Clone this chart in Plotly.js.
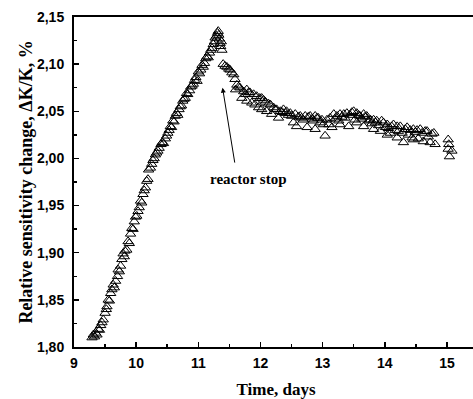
<!DOCTYPE html>
<html>
<head>
<meta charset="utf-8">
<script src="https://cdn.plot.ly/plotly-3.0.1.min.js"></script>
<style>html,body{margin:0;padding:0;overflow:hidden;background:#fff;}#chart{width:478px;height:399px;}</style>
</head>
<body>
<div id="chart"></div>
<script>
// Time, days
const timeDays = [
9.29,9.31,9.33,9.35,9.37,9.39,9.41,9.43,9.45,9.47,9.50,9.52,9.53,9.55,9.57,9.59,9.61,9.63,9.65,9.67,
9.70,9.71,9.73,9.75,9.77,9.79,9.81,9.82,9.85,9.87,9.89,9.91,9.93,9.95,9.97,9.99,10.01,10.03,10.05,10.07,
10.09,10.11,10.13,10.15,10.17,10.19,10.20,10.23,10.25,10.27,10.29,10.31,10.33,10.35,10.37,10.40,10.42,10.44,10.47,10.49,
10.51,10.53,10.55,10.57,10.59,10.61,10.63,10.65,10.67,10.69,10.71,10.73,10.75,10.77,10.79,10.81,10.83,10.86,10.88,10.90,
10.92,10.94,10.96,10.98,11.00,11.02,11.04,11.06,11.08,11.10,11.12,11.14,11.16,11.18,11.20,11.22,11.24,11.26,11.27,11.29,
11.31,11.32,11.33,11.34,11.35,11.36,11.37,11.38,
11.40,11.43,11.46,11.49,11.51,11.54,11.57,11.59,11.60,11.62,11.65,11.67,11.70,11.73,11.76,11.78,11.78,11.81,11.83,11.86,
11.89,11.91,11.94,11.97,11.99,12.02,12.02,12.05,12.08,12.10,12.13,12.16,12.18,12.21,12.24,12.26,12.29,12.32,12.35,12.37,
12.40,12.42,12.45,12.48,12.50,12.53,12.56,12.58,12.61,12.64,12.66,12.69,12.72,12.75,12.77,12.80,12.83,12.85,12.88,12.88,
12.91,12.93,12.96,12.99,13.01,13.04,13.07,13.10,13.12,13.15,13.18,13.20,13.23,13.26,13.28,13.28,13.31,13.34,13.36,13.39,
13.42,13.44,13.47,13.50,13.52,13.55,13.55,13.58,13.60,13.63,13.66,13.66,13.68,13.71,13.74,13.77,13.79,13.82,13.82,13.85,
13.87,13.90,13.93,13.95,13.98,14.01,14.04,14.04,14.06,14.09,14.11,14.14,14.17,14.20,14.20,14.22,14.25,14.28,14.30,14.33,
14.36,14.38,14.41,14.44,14.46,14.46,14.49,14.52,14.54,14.57,14.60,14.62,14.65,14.68,14.70,14.73,14.76,14.79,14.81,
15.02,15.03,15.02,15.04,15.08
];
// Relative sensitivity change, dK/K, %
const sensitivity = [
1.810,1.813,1.811,1.815,1.813,1.819,1.818,1.823,1.826,1.829,1.836,1.840,1.843,1.850,1.849,1.857,1.861,1.866,1.863,1.870,
1.875,1.882,1.880,1.886,1.893,1.899,1.896,1.902,1.903,1.912,1.910,1.920,1.926,1.925,1.933,1.938,1.939,1.944,1.948,1.955,
1.953,1.962,1.966,1.969,1.976,1.978,1.988,1.990,1.994,1.998,2.000,2.004,2.006,2.008,2.011,2.015,2.017,2.016,2.021,2.024,
2.027,2.030,2.034,2.033,2.040,2.039,2.045,2.048,2.046,2.052,2.055,2.056,2.061,2.063,2.064,2.069,2.068,2.072,2.076,2.077,
2.079,2.083,2.086,2.082,2.092,2.090,2.094,2.099,2.097,2.101,2.106,2.108,2.107,2.112,2.115,2.117,2.121,2.124,2.128,2.130,
2.133,2.135,2.131,2.127,2.122,2.119,2.124,2.115,
2.100,2.098,2.097,2.095,2.094,2.091,2.089,2.084,2.073,2.078,2.076,2.075,2.064,2.071,2.068,2.073,2.061,2.070,2.070,2.059,
2.068,2.057,2.066,2.054,2.064,2.064,2.052,2.062,2.060,2.050,2.058,2.057,2.047,2.054,2.052,2.052,2.043,2.050,2.049,2.052,
2.048,2.050,2.046,2.048,2.045,2.038,2.047,2.034,2.044,2.045,2.043,2.041,2.045,2.033,2.044,2.045,2.042,2.040,2.045,2.031,
2.043,2.043,2.038,2.041,2.036,2.024,2.041,2.036,2.043,2.033,2.047,2.042,2.045,2.040,2.047,2.036,2.044,2.047,2.043,2.048,
2.034,2.046,2.049,2.050,2.041,2.048,2.038,2.046,2.045,2.042,2.047,2.034,2.044,2.045,2.040,2.041,2.037,2.041,2.031,2.038,
2.040,2.035,2.029,2.040,2.038,2.033,2.036,2.025,2.032,2.027,2.034,2.036,2.030,2.034,2.022,2.029,2.034,2.027,2.017,2.031,
2.033,2.025,2.030,2.022,2.031,2.020,2.028,2.030,2.021,2.031,2.027,2.018,2.029,2.029,2.023,2.017,2.026,2.027,2.015,
2.020,2.015,2.010,2.002,2.008
];
const xTickVals = [9,10,11,12,13,14,15];
const yTickVals = [1.80,1.85,1.90,1.95,2.00,2.05,2.10,2.15];
const annotationText = "reactor stop";
const arrowHead = {x: 11.39, y: 2.075};
const arrowTail = {x: 11.59, y: 1.994};
const labelPos = {x: 11.80, y: 1.978};

const tickFont = {family: '"Liberation Sans", Arial, sans-serif', size: 14, color: '#000', weight: 700};
const titleFont = {family: '"Liberation Serif", "Times New Roman", serif', size: 17, color: '#000', weight: 700};

const trace = {
  x: timeDays, y: sensitivity, type: 'scatter', mode: 'markers',
  marker: {symbol: 'triangle-up-open', size: 9, color: '#000', line: {width: 1, color: '#000'}},
  hoverinfo: 'none'
};

const layout = {
  width: 478, height: 399,
  margin: {l: 74, r: 0, t: 17, b: 52},
  paper_bgcolor: '#fff', plot_bgcolor: '#fff',
  separators: ',.',
  showlegend: false,
  xaxis: {
    range: [9, 15.5], tickvals: xTickVals, ticktext: xTickVals.map(String),
    ticks: 'inside', ticklen: 5, tickwidth: 1.5, tickcolor: '#000',
    minor: {dtick: 0.5, tick0: 9, ticks: 'inside', ticklen: 3, tickwidth: 1.5, tickcolor: '#000'},
    showline: true, linewidth: 2, linecolor: '#000', mirror: true,
    showgrid: false, zeroline: false, tickfont: tickFont, ticklabelstandoff: 2,
    title: {text: 'Time, days', font: titleFont, standoff: 17}
  },
  yaxis: {
    range: [1.80, 2.15], tickvals: yTickVals, tickformat: '.2f',
    ticks: 'inside', ticklen: 5, tickwidth: 1.5, tickcolor: '#000',
    minor: {dtick: 0.025, tick0: 1.8, ticks: 'inside', ticklen: 3, tickwidth: 1.5, tickcolor: '#000'},
    showline: true, linewidth: 2, linecolor: '#000', mirror: true,
    showgrid: false, zeroline: false, tickfont: tickFont, ticklabelstandoff: 5,
    title: {text: 'Relative sensitivity change, ΔK/K, %', font: {...titleFont, size: 18}, standoff: 0}
  },
  annotations: [
    {x: arrowHead.x, y: arrowHead.y, ax: arrowTail.x, ay: arrowTail.y, axref: 'x', ayref: 'y',
     xref: 'x', yref: 'y', text: '', showarrow: true, arrowhead: 2, arrowsize: 1, arrowwidth: 1, arrowcolor: '#000'},
    {x: labelPos.x, y: labelPos.y, xref: 'x', yref: 'y', text: annotationText, showarrow: false,
     font: {family: '"Liberation Serif", "Times New Roman", serif', size: 15, color: '#000', weight: 700}}
  ]
};

Plotly.newPlot('chart', [trace], layout, {staticPlot: true, displayModeBar: false});
</script>
</body>
</html>
